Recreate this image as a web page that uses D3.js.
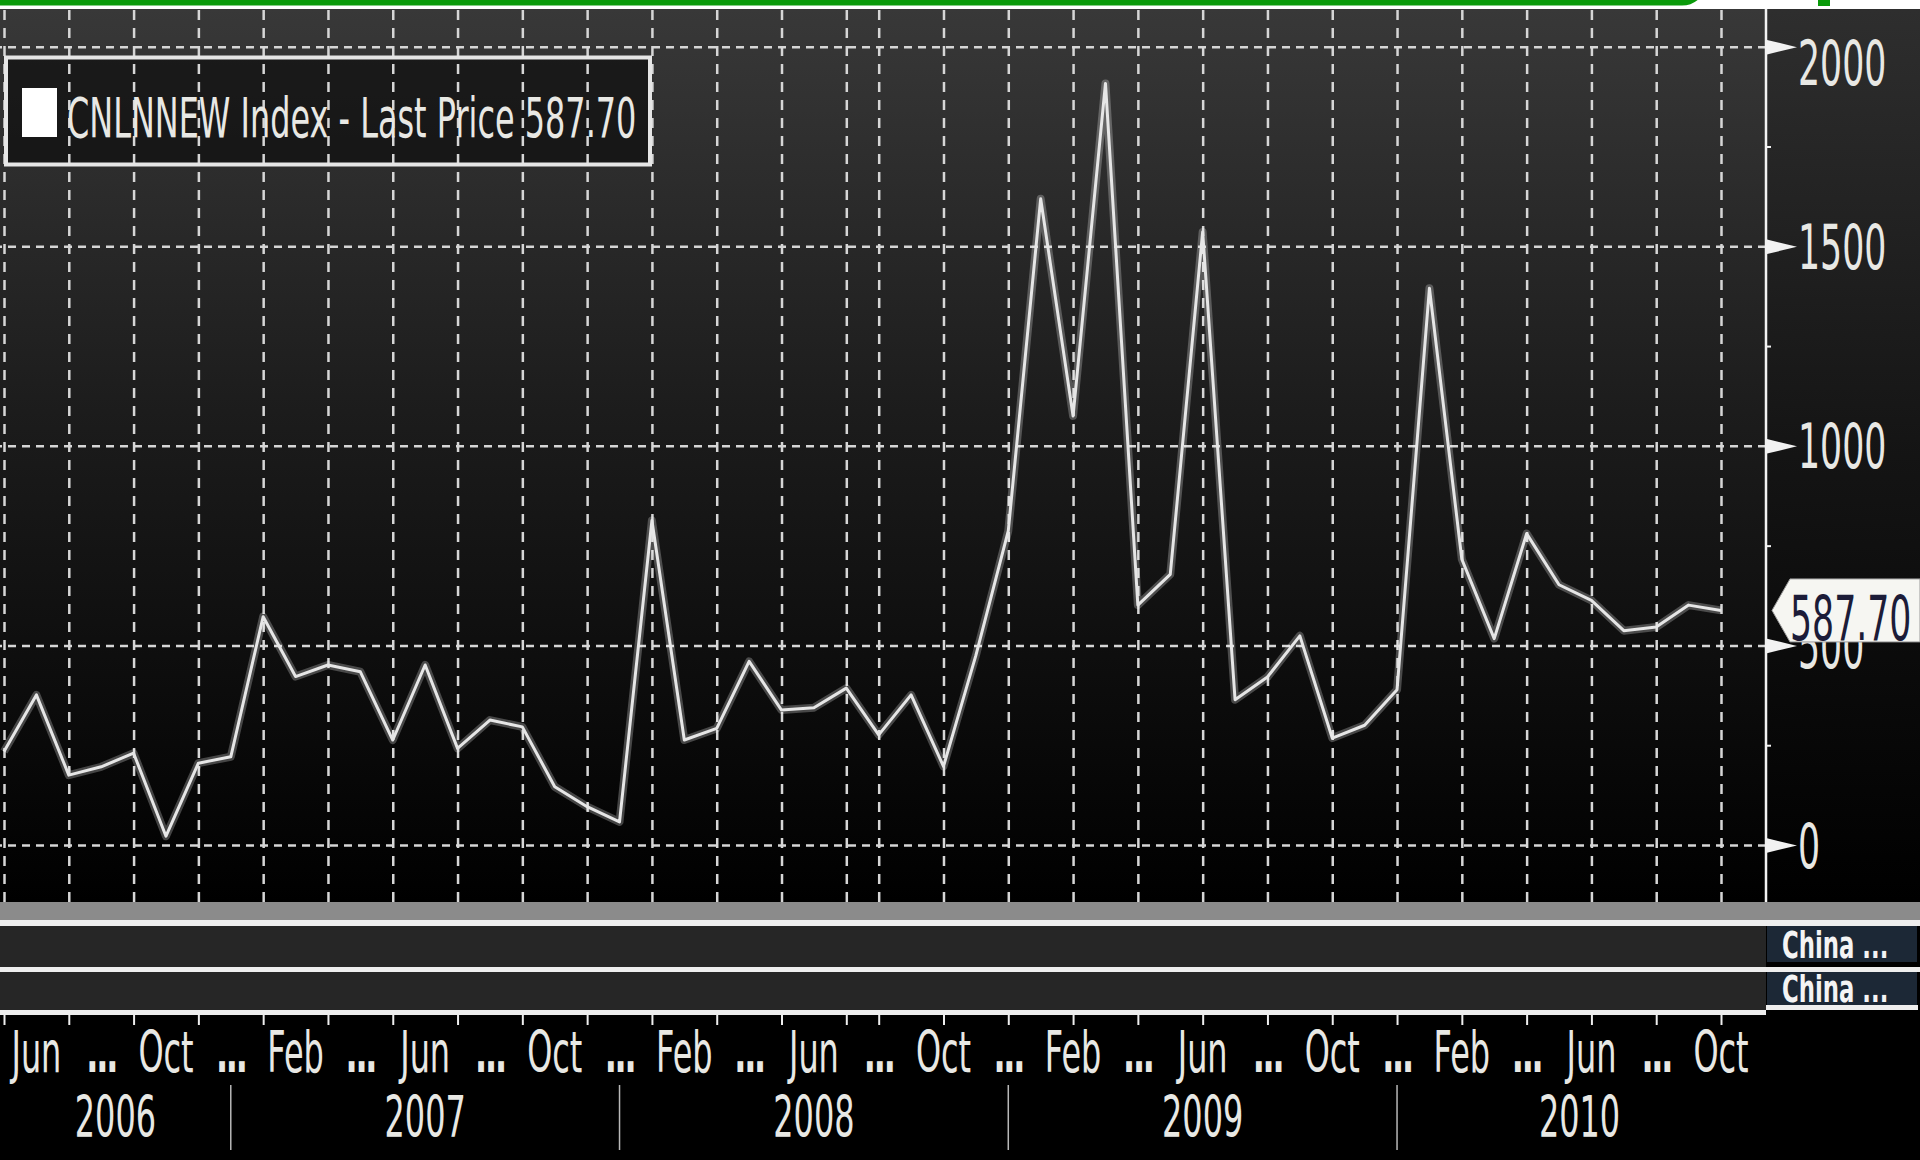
<!DOCTYPE html>
<html>
<head>
<meta charset="utf-8">
<script src="https://cdn.jsdelivr.net/npm/d3@7/dist/d3.min.js"></script>
<style>
html, body { margin: 0; padding: 0; background: #fff; overflow: hidden; }
svg { display: block; }
text { font-family: "DejaVu Sans", sans-serif; }
</style>
</head>
<body>
<div id="chart"></div>
<script>
// monthly points, May 2006 .. Oct 2010
const months = [
    "2006-05", "2006-06", "2006-07", "2006-08", "2006-09", "2006-10", "2006-11", "2006-12",
    "2007-01", "2007-02", "2007-03", "2007-04", "2007-05", "2007-06", "2007-07", "2007-08", "2007-09", "2007-10", "2007-11", "2007-12",
    "2008-01", "2008-02", "2008-03", "2008-04", "2008-05", "2008-06", "2008-07", "2008-08", "2008-09", "2008-10", "2008-11", "2008-12",
    "2009-01", "2009-02", "2009-03", "2009-04", "2009-05", "2009-06", "2009-07", "2009-08", "2009-09", "2009-10", "2009-11", "2009-12",
    "2010-01", "2010-02", "2010-03", "2010-04", "2010-05", "2010-06", "2010-07", "2010-08", "2010-09", "2010-10"
]
const values = [
    234, 376, 175, 196, 230, 22, 205, 221,
    572, 422, 451, 434, 263, 451, 242, 313, 296, 146, 96, 58,
    813, 263, 292, 460, 338, 344, 393, 276, 376, 197, 475, 787,
    1619, 1075, 1908, 601, 678, 1536, 364, 421, 524, 268, 300, 389,
    1395, 716, 517, 780, 652, 613, 537, 546, 601, 587.70
]
const lastPrice = 587.70
const legendText = "CNLNNEW Index - Last Price 587.70"

// grid / tick months (the spacing shifts by one month in mid 2008)
const gridMonths = [
    "2006-05", "2006-07", "2006-09", "2006-11", "2007-01", "2007-03", "2007-05", "2007-07",
    "2007-09", "2007-11", "2008-01", "2008-03", "2008-05", "2008-07", "2008-08", "2008-10",
    "2008-12", "2009-02", "2009-04", "2009-06", "2009-08", "2009-10", "2009-12", "2010-02",
    "2010-04", "2010-06", "2010-08", "2010-10"
]
const labelMonths = [
    "2006-06", "2006-08", "2006-10", "2006-12", "2007-02", "2007-04", "2007-06", "2007-08", "2007-10",
    "2007-12", "2008-02", "2008-04", "2008-06", "2008-08", "2008-10", "2008-12", "2009-02", "2009-04",
    "2009-06", "2009-08", "2009-10", "2009-12", "2010-02", "2010-04", "2010-06", "2010-08", "2010-10"
]
const labelNames = [
    "Jun", "...", "Oct", "...", "Feb", "...", "Jun", "...", "Oct",
    "...", "Feb", "...", "Jun", "...", "Oct", "...", "Feb", "...",
    "Jun", "...", "Oct", "...", "Feb", "...", "Jun", "...", "Oct"
]
const years = ["2006", "2007", "2008", "2009", "2010"]
const yearBreaks = ["2006-12", "2007-12", "2008-12", "2009-12"]
const yTicks = [0, 500, 1000, 1500, 2000]
const yMinor = [250, 750, 1250, 1750]
const panelLabels = ["China ...", "China ..."]

const W = 1920, H = 1160
const plot = {left: 0, right: 1766, top: 9, bottom: 902}
const SQ = 0.56   // horizontal squeeze for the narrow terminal font
const ink = "#e8e8e4"

const x = d3.scalePoint().domain(months).range([4, 1721])
const y = d3.scaleLinear().domain([0, 2000]).range([845, 46.7])

const svg = d3.select("#chart").append("svg")
    .attr("width", W)
    .attr("height", H)

const defs = svg.append("defs")
function vgrad(id, stops) {
    const g = defs.append("linearGradient").attr("id", id)
        .attr("x1", 0).attr("y1", 0).attr("x2", 0).attr("y2", 1)
    stops.forEach(s => g.append("stop").attr("offset", s[0]).attr("stop-color", s[1]))
}
vgrad("gPlot", [["0%", "#383838"], ["45%", "#1c1c1c"], ["100%", "#000"]])
vgrad("gAxis", [["0%", "#2e2e2e"], ["50%", "#141414"], ["100%", "#000"]])

// backgrounds
svg.append("rect").attr("width", W).attr("height", H).attr("fill", "#fff")
svg.append("rect").attr("x", plot.left).attr("y", plot.top)
    .attr("width", plot.right - plot.left).attr("height", plot.bottom - plot.top)
    .attr("fill", "url(#gPlot)")
svg.append("rect").attr("x", plot.right).attr("y", plot.top)
    .attr("width", W - plot.right).attr("height", plot.bottom - plot.top)
    .attr("fill", "url(#gAxis)")

// lower panels
svg.append("rect").attr("x", 0).attr("y", plot.bottom).attr("width", W).attr("height", H - plot.bottom).attr("fill", "#000")
svg.append("rect").attr("x", 0).attr("y", 902).attr("width", W).attr("height", 18).attr("fill", "#8b8b8b")
svg.append("rect").attr("x", 0).attr("y", 920).attr("width", W).attr("height", 6).attr("fill", "#eeeeee")
svg.append("rect").attr("x", 0).attr("y", 926).attr("width", plot.right).attr("height", 41).attr("fill", "#262626")
svg.append("rect").attr("x", 0).attr("y", 967).attr("width", W).attr("height", 5).attr("fill", "#eeeeee")
svg.append("rect").attr("x", 0).attr("y", 972).attr("width", plot.right).attr("height", 38).attr("fill", "#262626")
svg.append("rect").attr("x", 0).attr("y", 1010).attr("width", plot.right).attr("height", 5).attr("fill", "#eeeeee")
svg.append("rect").attr("x", plot.right).attr("y", 1005).attr("width", W - plot.right - 2).attr("height", 5).attr("fill", "#eeeeee")

const boxes = svg.append("g")
boxes.selectAll("rect")
    .data(panelLabels)
    .join("rect")
    .attr("x", plot.right + 1)
    .attr("y", (d, i) => i == 0 ? 926 : 972)
    .attr("width", W - plot.right - 4)
    .attr("height", (d, i) => i == 0 ? 36 : 33)
    .attr("fill", "#1c2836")
boxes.selectAll("text")
    .data(panelLabels)
    .join("text")
    .attr("transform", (d, i) => `translate(${plot.right + 16},${i == 0 ? 958 : 1002}) scale(0.6,1)`)
    .attr("font-size", 38)
    .attr("font-weight", "bold")
    .attr("fill", "#f4f4f4")
    .text(d => d)

// legend background (grid shows through)
svg.append("rect")
    .attr("x", 6).attr("y", 57.5).attr("width", 644).attr("height", 107)
    .attr("fill", "rgba(8,8,8,0.6)")

// grid
svg.append("g")
    .attr("transform", `translate(0,${plot.bottom})`)
    .call(d3.axisBottom(x).tickValues(gridMonths).tickSize(-(plot.bottom - plot.top)).tickFormat(""))
    .call(g => g.select(".domain").remove())
    .selectAll("line")
    .attr("stroke", "#d6d6d6")
    .attr("stroke-width", 2.5)
    .attr("stroke-dasharray", "10,8")

svg.append("g")
    .attr("transform", `translate(${plot.right},0)`)
    .call(d3.axisLeft(y).tickValues(yTicks).tickSize(plot.right).tickFormat(""))
    .call(g => g.select(".domain").remove())
    .selectAll("line")
    .attr("stroke", "#d6d6d6")
    .attr("stroke-width", 2.5)
    .attr("stroke-dasharray", "8,6")

// price line
const line = d3.line()
    .x((d, i) => x(months[i]))
    .y(d => y(d))
svg.append("path")
    .datum(values)
    .attr("d", line)
    .attr("fill", "none")
    .attr("stroke", "rgba(255,255,255,0.25)")
    .attr("stroke-width", 8)
    .attr("stroke-linejoin", "round")
svg.append("path")
    .datum(values)
    .attr("d", line)
    .attr("fill", "none")
    .attr("stroke", "#e6e6e6")
    .attr("stroke-width", 3)
    .attr("stroke-linejoin", "round")

// legend
svg.append("rect")
    .attr("x", 6).attr("y", 57.5).attr("width", 644).attr("height", 107)
    .attr("fill", "none")
    .attr("stroke", "#e6e6e6")
    .attr("stroke-width", 4)
svg.append("rect")
    .attr("x", 22).attr("y", 88).attr("width", 35).attr("height", 49)
    .attr("fill", "#ffffff")
svg.append("text")
    .attr("transform", `translate(67,137) scale(0.57,1)`)
    .attr("font-size", 56)
    .attr("fill", ink)
    .text(legendText)

// right axis
svg.append("line")
    .attr("x1", plot.right).attr("x2", plot.right)
    .attr("y1", plot.top).attr("y2", plot.bottom)
    .attr("stroke", "#f2f2f2")
    .attr("stroke-width", 2.5)

svg.append("g")
    .attr("transform", `translate(${plot.right},0)`)
    .call(d3.axisRight(y).tickValues(yMinor).tickSize(5).tickFormat(""))
    .call(g => g.select(".domain").remove())
    .selectAll("line")
    .attr("stroke", "#f2f2f2")
    .attr("stroke-width", 2)

const yAxis = svg.append("g")
    .attr("transform", `translate(${plot.right},0)`)
    .call(d3.axisRight(y).tickValues(yTicks).tickSize(0).tickFormat(d3.format("d")))
    .call(g => g.select(".domain").remove())
yAxis.selectAll(".tick")
    .append("path")
    .attr("d", "M0,-7.5L31,0L0,7.5Z")
    .attr("fill", "#f2f2f2")
yAxis.selectAll(".tick text")
    .attr("x", null)
    .attr("dy", null)
    .attr("transform", d => `translate(32,${d == 2000 ? 38 : 22}) scale(${SQ},1)`)
    .attr("text-anchor", "start")
    .attr("font-family", "DejaVu Sans, sans-serif")
    .attr("font-size", 62)
    .attr("fill", ink)

// last price tag, drawn over the 500 label as in the terminal
const yp = y(lastPrice)
svg.append("path")
    .attr("d", `M${plot.right + 6},${yp}L${plot.right + 24},${yp - 31.5}L${W},${yp - 31.5}L${W},${yp + 31.5}L${plot.right + 24},${yp + 31.5}Z`)
    .attr("fill", "#f6f6f2")
    .attr("stroke", "#9a9a9a")
    .attr("stroke-width", 1)
svg.append("text")
    .attr("transform", `translate(${plot.right + 24},${yp + 29.5}) scale(${SQ},1)`)
    .attr("font-size", 62)
    .attr("fill", "#1c1c38")
    .text(d3.format(".2f")(lastPrice))

// bottom axis
svg.append("g")
    .attr("transform", "translate(0,1015)")
    .call(d3.axisBottom(x).tickValues(gridMonths).tickSize(10).tickFormat(""))
    .call(g => g.select(".domain").remove())
    .selectAll("line")
    .attr("stroke", "#eeeeee")
    .attr("stroke-width", 2)

svg.append("g")
    .selectAll("text")
    .data(labelMonths)
    .join("text")
    .attr("transform", d => `translate(${x(d)},1072) scale(${SQ},1)`)
    .attr("text-anchor", "middle")
    .attr("font-size", 57)
    .attr("font-weight", (d, i) => labelNames[i] == "..." ? "bold" : "normal")
    .attr("letter-spacing", (d, i) => labelNames[i] == "..." ? -4 : 0)
    .attr("fill", ink)
    .text((d, i) => labelNames[i])

const bounds = [0].concat(yearBreaks.map(m => x(m)), [1762])
svg.append("g")
    .selectAll("line")
    .data(yearBreaks)
    .join("line")
    .attr("x1", d => x(d)).attr("x2", d => x(d))
    .attr("y1", 1085).attr("y2", 1150)
    .attr("stroke", "#b8b8b8")
    .attr("stroke-width", 1.5)
svg.append("g")
    .selectAll("text")
    .data(years)
    .join("text")
    .attr("transform", (d, i) => `translate(${(bounds[i] + bounds[i + 1]) / 2},1137) scale(${SQ},1)`)
    .attr("text-anchor", "middle")
    .attr("font-size", 57)
    .attr("fill", ink)
    .text(d => d)

// green frame edge at the top
svg.append("path")
    .attr("d", "M-10,2.5L1682,2.5A22,22 0 0 0 1704,-19.5")
    .attr("fill", "none")
    .attr("stroke", "#0a9a0a")
    .attr("stroke-width", 6)
svg.append("rect")
    .attr("x", 1818).attr("y", 0).attr("width", 12).attr("height", 6)
    .attr("fill", "#0a9a0a")
</script>
</body>
</html>
